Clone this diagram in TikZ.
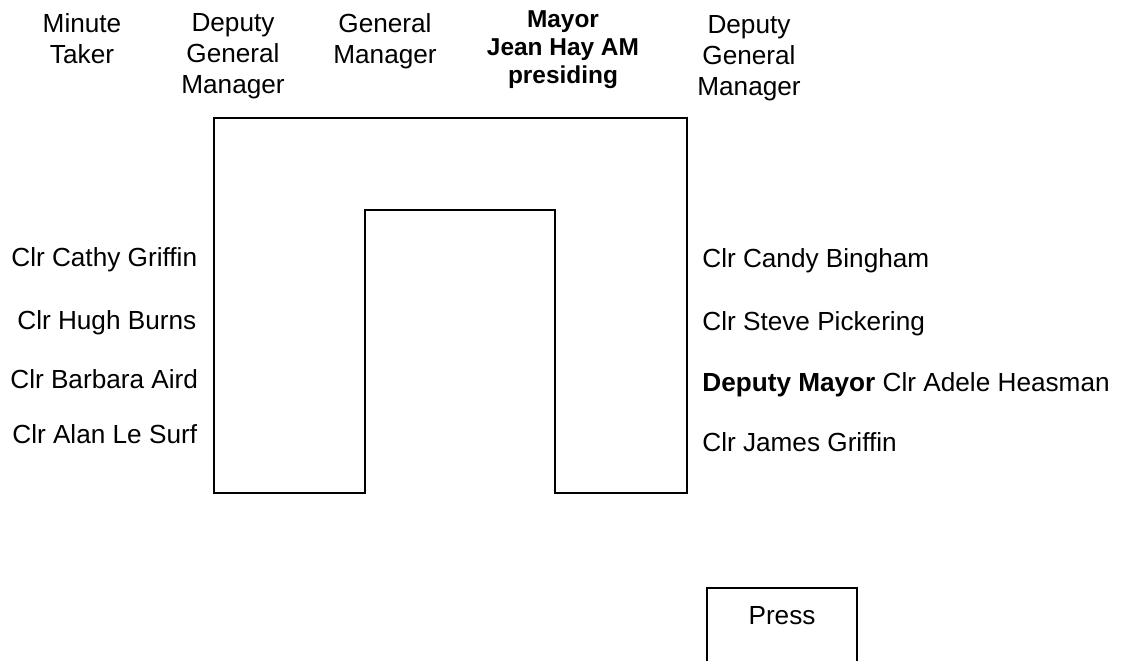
\documentclass[tikz,border=0pt]{standalone}
\usepackage{fontspec}
\setmainfont{Liberation Sans}
\usepackage{tikz}
\usetikzlibrary{positioning}
\definecolor{ink}{HTML}{000000}

\begin{document}
\begin{tikzpicture}[
    x=0.02cm, y=-0.02cm,
    line cap=rect, line join=miter,
    %% --- semantic styles ---
    tableline/.style = {draw=ink, line width=1.5pt},
    staff/.style     = {align=center, anchor=north, inner sep=0pt,
                        text=ink, font=\fontsize{14.9}{17.6}\selectfont},
    chair/.style     = {align=center, anchor=north, inner sep=0pt,
                        text=ink, font=\fontsize{13.9}{15.9}\selectfont\bfseries},
    seat/.style      = {anchor=base west, inner sep=0pt,
                        text=ink, font=\fontsize{14.9}{17.6}\selectfont}
]
\useasboundingbox (0,0) rectangle (1130,661);

%% =====================================================
%% HEAD OF THE TABLE
%% =====================================================
\node[staff] (MT)   at ( 82,13) {Minute\\Taker};
\node[staff] (DGML) at (233,13) {Deputy\\General\\Manager};
\node[staff] (GM)   at (385,13) {General\\Manager};
\node[chair] (MAY)  at (563,10) {Mayor\\Jean Hay AM\\presiding};
\node[staff] (DGMR) at (749,15) {Deputy\\General\\Manager};

%% =====================================================
%% U-SHAPED TABLE
%% =====================================================
\draw[tableline] (214,493) -- (214,118) -- (687,118) -- (687,493)
    -- (555,493) -- (555,210) -- (365,210) -- (365,493) -- cycle;

%% =====================================================
%% COUNCILLORS -- left side
%% =====================================================
\node[seat] (CG) at (11,267) {Clr Cathy Griffin};
\node[seat] (HB) at (17,330) {Clr Hugh Burns};
\node[seat] (BA) at (10,389) {Clr Barbara Aird};
\node[seat] (AS) at (12,444) {Clr Alan Le Surf};

%% =====================================================
%% COUNCILLORS -- right side
%% =====================================================
\node[seat] (CB) at (702,268) {Clr Candy Bingham};
\node[seat] (SP) at (702,331) {Clr Steve Pickering};
\node[seat] (AH) at (702,392) {\textbf{Deputy Mayor} Clr Adele Heasman};
\node[seat] (JG) at (702,452) {Clr James Griffin};

%% =====================================================
%% PRESS
%% =====================================================
\node[seat, anchor=base] (PR) at (782,625) {Press};
\draw[tableline] (707,661) -- (707,588) -- (857,588) -- (857,661);

\end{tikzpicture}
\end{document}
